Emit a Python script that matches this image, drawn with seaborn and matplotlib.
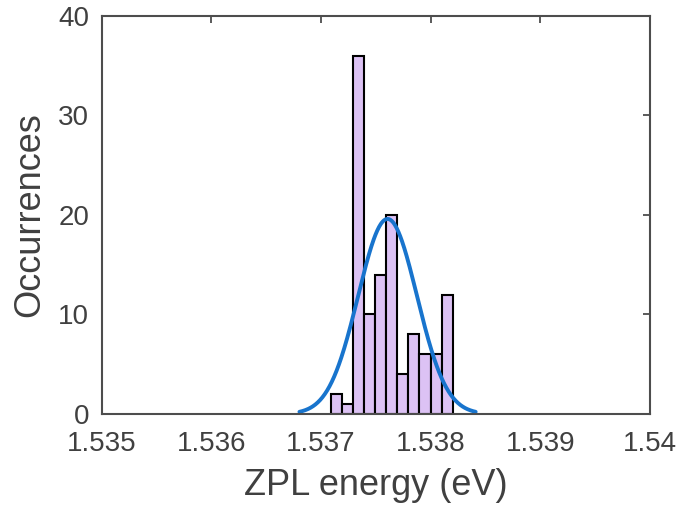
import numpy as np
import pandas as pd
import matplotlib
matplotlib.use('Agg')
import matplotlib.pyplot as plt
import seaborn as sns

# histogram of ZPL energies (counts per 0.1 meV bin)
bin_start = 1.53709
bin_width = 0.000101
counts = [2, 1, 36, 10, 14, 20, 4, 8, 6, 6, 12]

# gaussian fit parameters
fit_mu = 1.537607
fit_sigma = 0.000268
fit_amp = 19.6

x_ticks = [1.535, 1.536, 1.537, 1.538, 1.539, 1.54]
x_ticklabels = ['1.535', '1.536', '1.537', '1.538', '1.539', '1.54']
y_ticks = [0, 10, 20, 30, 40]

sns.set_style('white')
plt.rcParams['font.family'] = ['Liberation Sans', 'DejaVu Sans']
AX_COLOR = '#4d4d4d'
TXT_COLOR = '#404040'

edges = [bin_start + bin_width * i for i in range(len(counts) + 1)]
hist_df = pd.DataFrame({'energy': [(edges[i] + edges[i + 1]) / 2 for i in range(len(counts))],
                        'count': counts})

fig = plt.figure(figsize=(6.79, 5.13), dpi=100)
ax = fig.add_axes([0.150, 0.193, 0.807, 0.776])

sns.histplot(data=hist_df, x='energy', weights='count', bins=edges, color='#dcc2f4',
             alpha=1.0, edgecolor='black', linewidth=1.5, ax=ax)

xf = np.linspace(fit_mu - 3 * fit_sigma, fit_mu + 3 * fit_sigma, 300)
yf = fit_amp * np.exp(-0.5 * ((xf - fit_mu) / fit_sigma) ** 2)
sns.lineplot(x=xf, y=yf, color='#1874cd', linewidth=2.8, ax=ax)

ax.set_xlim(1.535, 1.54)
ax.set_ylim(0, 40)
ax.set_xticks(x_ticks)
ax.set_xticklabels(x_ticklabels)
ax.set_yticks(y_ticks)
ax.tick_params(direction='in', length=5, width=1.3, color=AX_COLOR, labelcolor=TXT_COLOR,
               labelsize=20, top=True, right=True)
ax.tick_params(axis='x', pad=12)
ax.tick_params(axis='y', pad=9)
for s in ax.spines.values():
    s.set_color(AX_COLOR)
    s.set_linewidth(1.5)
ax.set_xlabel('ZPL energy (eV)', fontsize=26, color=TXT_COLOR, labelpad=8)
ax.set_ylabel('Occurrences', fontsize=26, color=TXT_COLOR, labelpad=8)

fig.savefig('out.png', dpi=100)
